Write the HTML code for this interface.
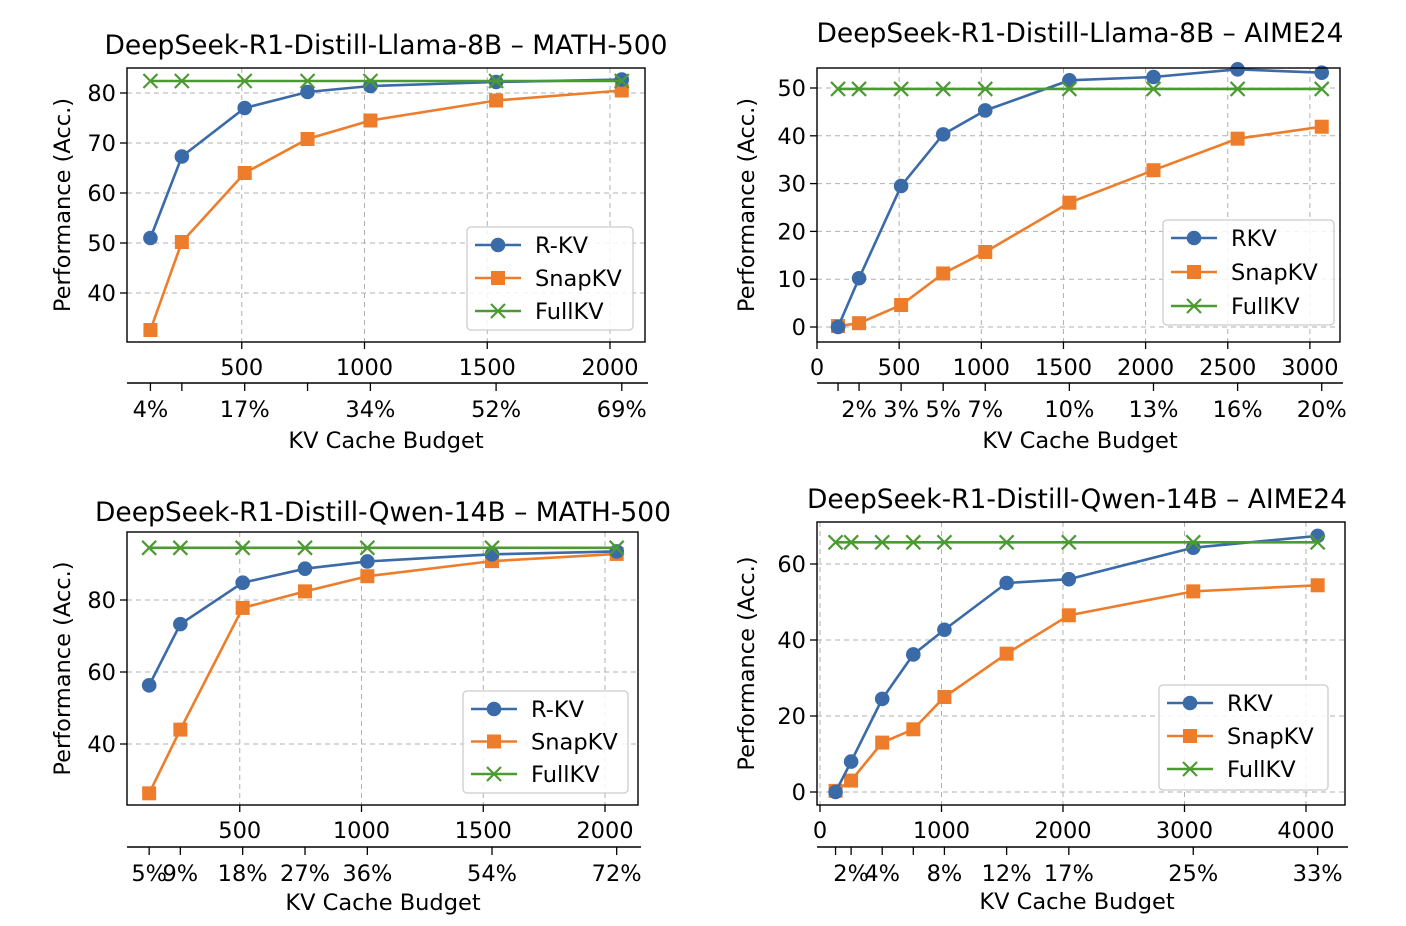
<!DOCTYPE html>
<html><head><meta charset="utf-8"><style>
html,body{margin:0;padding:0;background:#fff;}
svg{display:block;font-family:"DejaVu Sans","Liberation Sans",sans-serif;}
</style></head>
<body>
<svg id="fig" width="1406" height="926" viewBox="0 0 1406 926" xmlns="http://www.w3.org/2000/svg"></svg>
<script>
// ---- data ----
const p1Budget=[128,256,512,768,1024,1536,2048];
const p1RKV=[51,67.3,77,80.2,81.4,82.2,82.7];
const p1Snap=[32.6,50.2,64,70.8,74.5,78.5,80.5];
const p1Full=[82.4,82.4,82.4,82.4,82.4,82.4,82.4];
const p1Pct=["4%","","17%","","34%","52%","69%"];
const p1XTicks=[500,1000,1500,2000];
const p1YTicks=[40,50,60,70,80];

const p2Budget=[128,256,512,768,1024,1536,2048,2560,3072];
const p2RKV=[0,10.2,29.5,40.3,45.3,51.6,52.3,53.9,53.2];
const p2Snap=[0.2,0.8,4.6,11.2,15.7,26.0,32.8,39.4,41.9];
const p2Full=[49.8,49.8,49.8,49.8,49.8,49.8,49.8,49.8,49.8];
const p2Pct=["","2%","3%","5%","7%","10%","13%","16%","20%"];
const p2XTicks=[0,500,1000,1500,2000,2500,3000];
const p2YTicks=[0,10,20,30,40,50];

const p3Budget=[128,256,512,768,1024,1536,2048];
const p3RKV=[56.3,73.3,84.8,88.7,90.7,92.7,93.5];
const p3Snap=[26.3,44,77.8,82.4,86.6,90.8,92.8];
const p3Full=[94.5,94.5,94.5,94.5,94.5,94.5,94.5];
const p3Pct=["5%","9%","18%","27%","36%","54%","72%"];
const p3XTicks=[500,1000,1500,2000];
const p3YTicks=[40,60,80];

const p4Budget=[128,256,512,768,1024,1536,2048,3072,4096];
const p4RKV=[0,8,24.5,36.2,42.7,55,56,64.3,67.4];
const p4Snap=[0.3,3,13,16.5,25,36.4,46.5,52.8,54.4];
const p4Full=[65.7,65.7,65.7,65.7,65.7,65.7,65.7,65.7,65.7];
const p4Pct=["","2%","4%","","8%","12%","17%","25%","33%"];
const p4XTicks=[0,1000,2000,3000,4000];
const p4YTicks=[0,20,40,60];

const NS="http://www.w3.org/2000/svg";
const svg=document.getElementById('fig');
const BLUE="#3a6aa8",ORANGE="#ee7d2b",GREEN="#4b9a32";
const FS=22.5, TFS=26.5;
function el(tag,attrs,parent){const e=document.createElementNS(NS,tag);for(const k in attrs)e.setAttribute(k,attrs[k]);(parent||svg).appendChild(e);return e;}
function txt(s,x,y,size,anchor,parent,rot){const t=el('text',{x:x,y:y,'font-size':size,'text-anchor':anchor||'middle',fill:'#000'},parent);if(rot)t.setAttribute('transform',`rotate(-90 ${x} ${y})`);t.textContent=s;return t;}

function panel(cfg){
  const g=el('g',{});
  
  
  const X=v=>cfg.x0px+(v-cfg.xv0)*cfg.xs;
  const Y=v=>cfg.y0px-(v-cfg.yv0)*cfg.ys;
  cfg.xticks.forEach(v=>{const l=el('line',{x1:X(v),x2:X(v),y1:cfg.top,y2:cfg.bot,stroke:'#b0b0b0','stroke-dasharray':'5,4','stroke-width':1},g);});
  cfg.yticks.forEach(v=>{const l=el('line',{x1:cfg.left,x2:cfg.right,y1:Y(v),y2:Y(v),stroke:'#b0b0b0','stroke-dasharray':'5,4','stroke-width':1},g);});
  const series=[[cfg.full,GREEN,'x','fullkv-line'],[cfg.snap,ORANGE,'s','snapkv-line'],[cfg.rkv,BLUE,'o','rkv-line']];
  const order=[series[1],series[2],series[0]];
  order.forEach(([vals,col,mk,nm])=>{
    const pts=cfg.budget.map((b,i)=>X(b)+','+Y(vals[i])).join(' ');
    const pl=el('polyline',{points:pts,fill:'none',stroke:col,'stroke-width':2.6},g);
    
    
    cfg.budget.forEach((b,i)=>{const m=marker(mk,X(b),Y(vals[i]),col,g);});
  });
  const fr=el('rect',{x:cfg.left,y:cfg.top,width:cfg.right-cfg.left,height:cfg.bot-cfg.top,fill:'none',stroke:'#000','stroke-width':1.4},g);
  
  cfg.yticks.forEach(v=>{el('line',{x1:cfg.left-7,x2:cfg.left,y1:Y(v),y2:Y(v),stroke:'#000','stroke-width':1.3},g);const t=txt(String(v),cfg.left-11,Y(v)+8,FS,'end',g);});
  cfg.xticks.forEach(v=>{el('line',{x1:X(v),x2:X(v),y1:cfg.bot,y2:cfg.bot+7,stroke:'#000','stroke-width':1.3},g);const t=txt(String(v),X(v),cfg.bot+33,FS,'middle',g);});
  const sy=cfg.secY;
  const sl=el('line',{x1:cfg.left,x2:cfg.right+3,y1:sy,y2:sy,stroke:'#000','stroke-width':1.4},g);
  
  cfg.budget.forEach((b,i)=>{el('line',{x1:X(b),x2:X(b),y1:sy,y2:sy+8,stroke:'#000','stroke-width':1.3},g);if(cfg.pct[i]){const t=txt(cfg.pct[i],X(b),sy+34,FS,'middle',g);}});
  const ti=txt(cfg.title,cfg.titleX,cfg.titleY,TFS,'middle',g);
  const xl=txt('KV Cache Budget',cfg.xlabX,cfg.xlabY,FS,'middle',g);
  const yl=txt('Performance (Acc.)',cfg.ylabX,(cfg.top+cfg.bot)/2,FS,'middle',g,true);
  const L=cfg.leg;
  const lg=el('g',{},g);
  el('rect',{x:L.x,y:L.y,width:L.w,height:L.h,rx:4,fill:'#fff','fill-opacity':0.85,stroke:'#ccc','stroke-width':1.3},lg);
  [[cfg.rname,BLUE,'o'],['SnapKV',ORANGE,'s'],['FullKV',GREEN,'x']].forEach(([n,c,m],i)=>{
    const yy=L.y+18+i*L.dy;
    const e=el('g',{},lg);
    el('line',{x1:L.x+8,x2:L.x+54,y1:yy,y2:yy,stroke:c,'stroke-width':2.6},e);
    marker(m,L.x+31,yy,c,e);
    txt(n,L.x+68,yy+8,FS,'start',e);
  });
}
function marker(m,x,y,c,p){
  if(m==='o')return el('circle',{cx:x,cy:y,r:7.3,fill:c},p);
  if(m==='s')return el('rect',{x:x-7,y:y-7,width:14,height:14,fill:c},p);
  return el('path',{d:`M${x-7} ${y-7}L${x+7} ${y+7}M${x-7} ${y+7}L${x+7} ${y-7}`,stroke:c,'stroke-width':2.2,fill:'none'},p);
}

panel({name:'panel-llama-math500',budget:p1Budget,rkv:p1RKV,snap:p1Snap,full:p1Full,pct:p1Pct,xticks:p1XTicks,yticks:p1YTicks,
 left:127,right:645,top:68,bot:342,x0px:119,xv0:0,xs:0.2455,y0px:93,yv0:80,ys:5.0,secY:383,
 title:'DeepSeek-R1-Distill-Llama-8B – MATH-500',titleX:386,titleY:54,xlabX:386,xlabY:448,ylabX:70,rname:'R-KV',
 leg:{x:467,y:227,w:166,h:103,dy:33}});
panel({name:'panel-llama-aime24',budget:p2Budget,rkv:p2RKV,snap:p2Snap,full:p2Full,pct:p2Pct,xticks:p2XTicks,yticks:p2YTicks,
 left:817,right:1340,top:68,bot:342,x0px:817,xv0:0,xs:0.1643,y0px:327,yv0:0,ys:4.78,secY:383,
 title:'DeepSeek-R1-Distill-Llama-8B – AIME24',titleX:1080,titleY:42,xlabX:1080,xlabY:448,ylabX:754,rname:'RKV',
 leg:{x:1163,y:220,w:171,h:105,dy:34}});
panel({name:'panel-qwen-math500',budget:p3Budget,rkv:p3RKV,snap:p3Snap,full:p3Full,pct:p3Pct,xticks:p3XTicks,yticks:p3YTicks,
 left:127,right:638,top:532,bot:805,x0px:118,xv0:0,xs:0.2435,y0px:744,yv0:40,ys:3.6,secY:847,
 title:'DeepSeek-R1-Distill-Qwen-14B – MATH-500',titleX:383,titleY:521,xlabX:383,xlabY:910,ylabX:70,rname:'R-KV',
 leg:{x:463,y:691,w:165,h:102,dy:32.5}});
panel({name:'panel-qwen-aime24',budget:p4Budget,rkv:p4RKV,snap:p4Snap,full:p4Full,pct:p4Pct,xticks:p4XTicks,yticks:p4YTicks,
 left:817,right:1345,top:522,bot:805,x0px:820,xv0:0,xs:0.1215,y0px:792,yv0:0,ys:3.8,secY:847,
 title:'DeepSeek-R1-Distill-Qwen-14B – AIME24',titleX:1077,titleY:508,xlabX:1077,xlabY:909,ylabX:754,rname:'RKV',
 leg:{x:1159,y:685,w:169,h:105,dy:33}});
</script>
</body></html>
